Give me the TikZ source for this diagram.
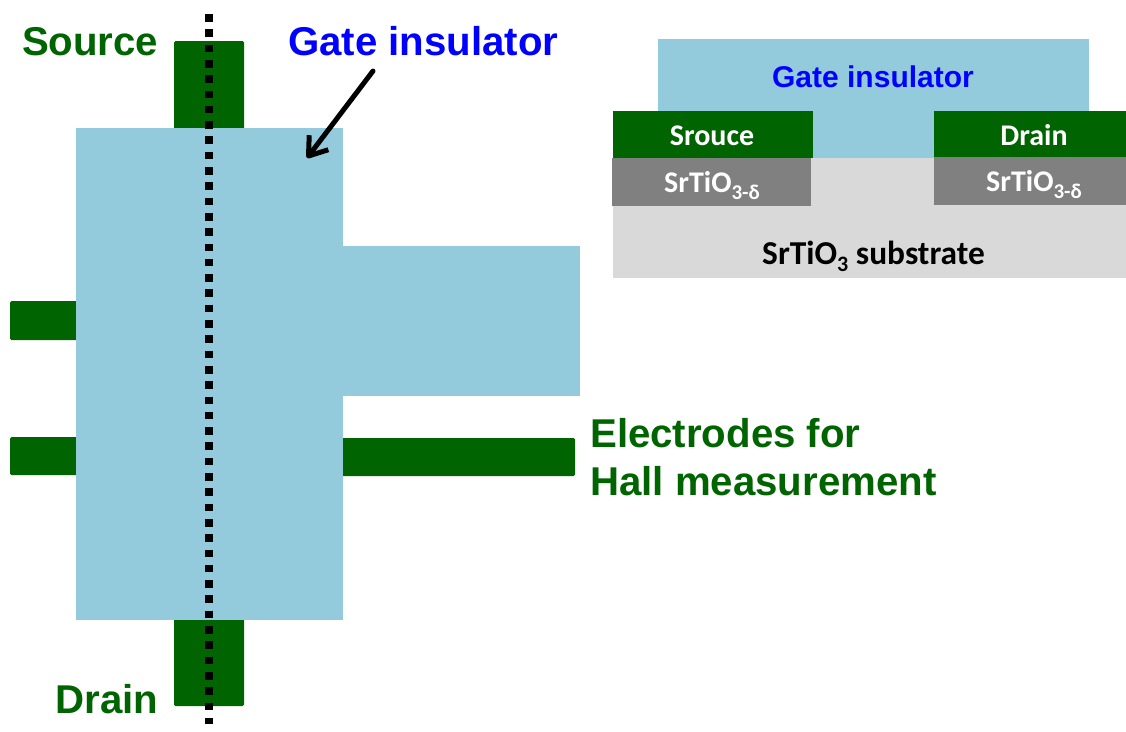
\documentclass[tikz,border=0pt]{standalone}
\usepackage{fontspec}
\setmainfont{Liberation Sans}
\newfontfamily\cellfont{Carlito}
\usetikzlibrary{arrows.meta,positioning}
\definecolor{gatecolor}{HTML}{93CBDD}
\definecolor{metalcolor}{HTML}{006400}
\definecolor{reducedcolor}{HTML}{808080}
\definecolor{subcolor}{HTML}{D9D9D9}
\newcommand{\lowtext}[2]{\raisebox{-7pt}{\fontsize{#1}{#1}\selectfont #2}}

\begin{document}
\begin{tikzpicture}[x=1pt,y=-1pt] % one unit is one pixel of the reference
\tikzset{layer/.style={anchor=north west, inner sep=0pt, outer sep=0pt}}
\tikzset{gate/.style={layer, fill=gatecolor}}
\tikzset{electrode/.style={layer, fill=metalcolor, rounded corners=1.5pt}}
\tikzset{metal/.style={layer, fill=metalcolor, text=white}}
\tikzset{reduced/.style={layer, fill=reducedcolor, text=white}}
\tikzset{biglabel/.style={inner sep=0pt, font=\fontsize{40.2}{48}\selectfont\bfseries}}
\tikzset{celllabel/.style={inner sep=0pt, anchor=base, font=\fontsize{30}{34}\selectfont\cellfont\bfseries}}
\useasboundingbox (0,0) rectangle (1126,731);
% top view
\node[electrode, minimum width=70pt, minimum height=90pt] (source) at (174,41) {};
\node[electrode, minimum width=70pt, minimum height=89pt] (drain) at (174,617) {};
\node[electrode, minimum width=70pt, minimum height=39pt] (hallA) at (10,301) {};
\node[electrode, minimum width=70pt, minimum height=38pt] (hallB) at (10,437) {};
\node[electrode, minimum width=235pt, minimum height=38pt] (hallC) at (340,438) {};
\node[gate, minimum width=267pt, minimum height=492pt] (body) at (76,128) {};
\node[gate, minimum width=240pt, minimum height=150pt] (tab) at (340,246) {};
\coordinate (cutA) at (209,14);
\coordinate (cutB) at (209,724);
\draw[line width=7.6pt, dash pattern=on 7.6pt off 7.7pt] (cutA) -- (cutB);
\node[biglabel, text=metalcolor, anchor=base east] (sourcetext) at (158.5,55) {Source};
\node[biglabel, text=metalcolor, anchor=base east] (draintext) at (158.5,713) {Drain};
\node[biglabel, text=blue, anchor=base west] (gatetext) at (288,55) {Gate insulator};
\node[biglabel, text=metalcolor, anchor=base west] (halltextA) at (590,447) {Electrodes for};
\node[biglabel, text=metalcolor, anchor=base west] (halltextB) at (590,495) {Hall measurement};
\coordinate (arrowstart) at (373,71);
\coordinate (arrowend) at (307,158);
\draw[line width=5pt, line cap=round, -{Straight Barb[length=17pt,width=24pt,line join=round]}] (arrowstart) -- (arrowend);
% cross section
\node[layer, fill=subcolor, minimum width=513pt, minimum height=120pt] (substrate) at (613,158) {};
\node[gate, minimum width=431pt, minimum height=119pt] (gatecut) at (658,39) {};
\node[reduced, minimum width=199pt, minimum height=48pt] (reducedA) at (612,158) {};
\node[reduced, minimum width=192pt, minimum height=48pt] (reducedB) at (934,157) {};
\node[metal, minimum width=200pt, minimum height=47pt] (metalA) at (613,111) {};
\node[metal, minimum width=192pt, minimum height=46pt] (metalB) at (934,111) {};
\node[font=\fontsize{30}{36}\selectfont\bfseries, text=blue, inner sep=0pt, anchor=base] (gatecuttext) at (873,87) {Gate insulator};
\node[celllabel, text=white] (metalAtext) at (712,145) {Srouce};
\node[celllabel, text=white] (metalBtext) at (1034,145) {Drain};
\node[celllabel, text=white] (reducedAtext) at (712,192) {SrTiO\lowtext{21}{3-δ}};
\node[celllabel, text=white] (reducedBtext) at (1034,191) {SrTiO\lowtext{21}{3-δ}};
\node[celllabel, text=black, font=\fontsize{33.4}{38}\selectfont\cellfont\bfseries] (subtext) at (873.5,264) {SrTiO\lowtext{22}{3} substrate};
\end{tikzpicture}
\end{document}
